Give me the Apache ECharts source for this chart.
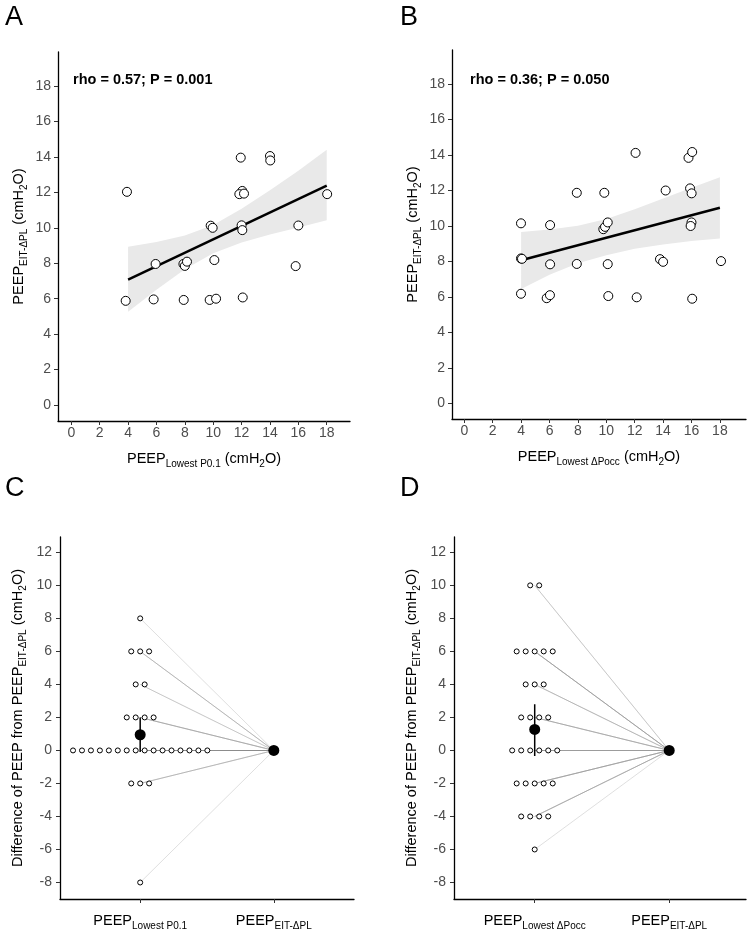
<!DOCTYPE html>
<html>
<head>
<meta charset="utf-8">
<script src="https://cdn.jsdelivr.net/npm/echarts@6/dist/echarts.min.js"></script>
<style>
html,body{margin:0;padding:0;background:#fff;}
#main{width:755px;height:934px;}
</style>
</head>
<body>
<div id="main"></div>
<script>
const FONT = 'Liberation Sans, Arial, sans-serif';

// A: PEEP lowest P0.1 vs PEEP EIT-dPL (jittered points as drawn)
let aX = [3.83, 3.92, 5.94, 5.8, 7.9, 8.0, 8.15, 7.92, 9.82, 9.96, 10.08, 9.75, 10.2, 11.94, 12.05, 11.84, 12.17, 12.0, 12.05, 12.08, 14.0, 14.02, 15.81, 16.0, 18.03];
let aY = [5.88, 12.03, 7.96, 5.96, 7.96, 7.85, 8.09, 5.93, 10.12, 10.0, 8.18, 5.93, 6.0, 13.96, 12.08, 11.9, 11.93, 10.14, 9.87, 6.07, 14.05, 13.8, 7.84, 10.13, 11.9];
let fitX = [4, 18];
let fitAY = [7.08, 12.38];
let bandX = [4, 6, 8, 10, 12, 14, 16, 18];
let bandUpA = [8.93, 9.2, 9.56, 10.16, 11.07, 12.12, 13.22, 14.4];
let bandLoA = [5.27, 6.5, 7.66, 8.56, 9.17, 9.62, 10.02, 10.42];

// B: PEEP lowest dPocc vs PEEP EIT-dPL
let bX = [3.99, 3.99, 4.06, 3.99, 6.04, 6.04, 5.8, 6.03, 7.92, 7.92, 9.86, 9.79, 9.91, 10.1, 10.1, 10.14, 12.06, 12.14, 13.78, 14.0, 14.18, 15.79, 16.05, 15.9, 16.01, 16.0, 15.94, 16.05, 18.08];
let bY = [10.15, 8.17, 8.15, 6.18, 10.05, 7.84, 5.93, 6.1, 11.87, 7.86, 11.87, 9.82, 9.95, 10.2, 7.85, 6.05, 14.12, 5.98, 8.13, 7.98, 12.0, 13.84, 14.17, 12.12, 11.84, 10.2, 10.0, 5.9, 8.02];
let fitBY = [8.07, 11.03];
let bandUpB = [9.66, 9.8, 10.02, 10.4, 10.95, 11.55, 12.15, 12.75];
let bandLoB = [6.45, 7.25, 7.9, 8.35, 8.72, 8.95, 9.15, 9.3];

let xTicksAB = [0, 2, 4, 6, 8, 10, 12, 14, 16, 18];
let yTicksAB = [0, 2, 4, 6, 8, 10, 12, 14, 16, 18];

// C / D: difference of PEEP from PEEP EIT-dPL, one value per patient
let diffC = [8, 6, 6, 6, 4, 4, 2, 2, 2, 2,
    0, 0, 0, 0, 0, 0, 0, 0, 0, 0, 0, 0, 0, 0, 0, 0,
    -2, -2, -2, -8];
let diffD = [10, 10, 6, 6, 6, 6, 6, 4, 4, 4, 2, 2, 2, 2,
    0, 0, 0, 0, 0, 0, -2, -2, -2, -2, -2, -4, -4, -4, -4, -6];
let meanC = 0.95, ciC = [-0.1, 2.0];
let meanD = 1.27, ciD = [-0.33, 2.8];
let yTicksCD = [-8, -6, -4, -2, 0, 2, 4, 6, 8, 10, 12];
let catC = [['PEEP', 'Lowest P0.1'], ['PEEP', 'EIT-ΔPL']];
let catD = [['PEEP', 'Lowest ΔPocc'], ['PEEP', 'EIT-ΔPL']];

let richT = {
    a: {fontSize: 14.5, color: '#000', fontFamily: FONT, lineHeight: 20},
    s: {fontSize: 10, color: '#000', fontFamily: FONT, lineHeight: 14, verticalAlign: 'bottom'}
};

function valAxis(gi, min, max, ticks, name, gap, margin, rotate) {
    return {
        gridIndex: gi, type: 'value', min: min, max: max,
        axisLine: {show: true, onZero: false, lineStyle: {color: '#000', width: 1.3}},
        axisTick: {show: true, customValues: ticks, length: 4, lineStyle: {color: '#333', width: 1}},
        axisLabel: {customValues: ticks, color: '#4d4d4d', fontSize: 14, fontFamily: FONT, margin: margin},
        splitLine: {show: false},
        name: name, nameLocation: 'middle', nameGap: gap, nameRotate: rotate || 0,
        nameTextStyle: {rich: richT}
    };
}

function catAxis(gi, max, cats) {
    let ax = valAxis(gi, 0.4, max, [1, 2], '', 0, 12);
    ax.axisLabel.formatter = function (v) {
        let c = cats[Math.round(v) - 1];
        return '{a|' + c[0] + '}{s|' + c[1] + '}';
    };
    ax.axisLabel.rich = richT;
    return ax;
}

function bandSeries(gi, up, lo) {
    return {
        type: 'custom', xAxisIndex: gi, yAxisIndex: gi, z: 1, silent: true,
        data: [[bandX[0], up[0]]],
        renderItem: function (params, api) {
            let pts = [];
            bandX.forEach(function (x, i) { pts.push(api.coord([x, up[i]])); });
            for (let i = bandX.length - 1; i >= 0; i--) pts.push(api.coord([bandX[i], lo[i]]));
            return {type: 'polygon', shape: {points: pts}, style: {fill: '#e9e9e9'}};
        }
    };
}

function fitSeries(gi, ys) {
    return {
        type: 'line', xAxisIndex: gi, yAxisIndex: gi, z: 2, symbol: 'none', silent: true,
        data: fitX.map(function (x, i) { return [x, ys[i]]; }),
        lineStyle: {color: '#000', width: 2.5}
    };
}

function pointSeries(gi, xs, ys) {
    return {
        type: 'scatter', xAxisIndex: gi, yAxisIndex: gi, z: 3, symbolSize: 9,
        data: xs.map(function (x, i) { return [x, ys[i]]; }),
        itemStyle: {color: '#fff', borderColor: '#000', borderWidth: 1, opacity: 1}
    };
}

// stack equal values side by side, centred on category 1
function dotLayout(vals, dx) {
    let groups = new Map();
    vals.forEach(function (v) { groups.set(v, (groups.get(v) || 0) + 1); });
    let pts = [];
    groups.forEach(function (n, v) {
        for (let i = 0; i < n; i++) pts.push([1 + (i - (n - 1) / 2) * dx, v]);
    });
    return pts;
}

function pairedSeries(gi, vals, mean, ci) {
    return [{
        type: 'lines', coordinateSystem: 'cartesian2d', xAxisIndex: gi, yAxisIndex: gi, z: 1, silent: true,
        data: vals.map(function (v) { return {coords: [[1, v], [2, 0]]}; }),
        lineStyle: {color: '#8c8c8c', width: 1, opacity: 0.28}
    }, {
        type: 'scatter', xAxisIndex: gi, yAxisIndex: gi, z: 2, symbolSize: 5,
        data: dotLayout(vals, 0.067),
        itemStyle: {color: '#fff', borderColor: '#000', borderWidth: 1, opacity: 1}
    }, {
        type: 'line', xAxisIndex: gi, yAxisIndex: gi, z: 3, symbol: 'none', silent: true,
        data: [[1, ci[0]], [1, ci[1]]],
        lineStyle: {color: '#000', width: 1.5}
    }, {
        type: 'scatter', xAxisIndex: gi, yAxisIndex: gi, z: 4, symbolSize: 11,
        data: [[1, mean], [2, 0]],
        itemStyle: {color: '#000', opacity: 1}
    }];
}

function label(x, y, text, size, weight) {
    return {
        type: 'text', x: x, y: y, silent: true,
        style: {text: text, fontSize: size, fontWeight: weight || 'normal', fontFamily: FONT,
            fill: '#000', align: 'left', verticalAlign: 'middle'}
    };
}

let yNameAB = '{a|PEEP}{s|EIT-ΔPL}{a| (cmH}{s|2}{a|O)}';
let yNameCD = '{a|Difference of PEEP from PEEP}{s|EIT-ΔPL}{a| (cmH}{s|2}{a|O)}';

let option = {
    animation: false,
    backgroundColor: '#fff',
    textStyle: {fontFamily: FONT},
    grid: [
        {left: 58, top: 52, width: 292, height: 369},
        {left: 452, top: 50, width: 294, height: 369},
        {left: 60, top: 537, width: 294, height: 362},
        {left: 454, top: 537, width: 292, height: 362}
    ],
    xAxis: [
        valAxis(0, -0.94, 19.64, xTicksAB, '{a|PEEP}{s|Lowest P0.1}{a| (cmH}{s|2}{a|O)}', 28, 5),
        valAxis(1, -0.87, 19.84, xTicksAB, '{a|PEEP}{s|Lowest ΔPocc}{a| (cmH}{s|2}{a|O)}', 28, 5),
        catAxis(2, 2.6, catC),
        catAxis(3, 2.571, catD)
    ],
    yAxis: [
        valAxis(0, -0.9, 19.92, yTicksAB, yNameAB, 29, 7, 90),
        valAxis(1, -0.88, 19.92, yTicksAB, yNameAB, 29, 7, 90),
        valAxis(2, -9, 12.93, yTicksCD, yNameCD, 32, 8, 90),
        valAxis(3, -9, 12.93, yTicksCD, yNameCD, 32, 8, 90)
    ],
    graphic: [
        label(5, 18, 'A', 27),
        label(400, 18, 'B', 27),
        label(5, 489, 'C', 27),
        label(400, 489, 'D', 27),
        label(73, 80, 'rho = 0.57; P = 0.001', 14.5, 'bold'),
        label(470, 80, 'rho = 0.36; P = 0.050', 14.5, 'bold')
    ],
    series: [
        bandSeries(0, bandUpA, bandLoA),
        fitSeries(0, fitAY),
        pointSeries(0, aX, aY),
        bandSeries(1, bandUpB, bandLoB),
        fitSeries(1, fitBY),
        pointSeries(1, bX, bY)
    ].concat(pairedSeries(2, diffC, meanC, ciC), pairedSeries(3, diffD, meanD, ciD))
};

let chart = echarts.init(document.getElementById('main'), null, {renderer: 'canvas'});
chart.setOption(option);
</script>
</body>
</html>
